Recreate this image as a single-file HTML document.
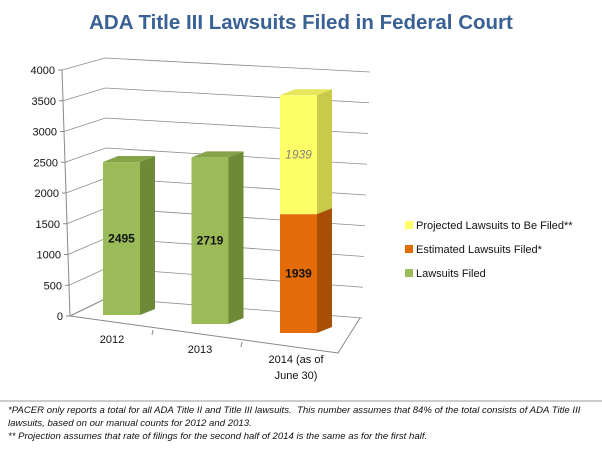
<!DOCTYPE html>
<html><head><meta charset="utf-8"><style>
body{margin:0;background:#fff;width:602px;height:458px;overflow:hidden;font-family:"Liberation Sans",sans-serif}
svg{position:absolute;left:0;top:0}
.fn{position:absolute;left:8px;font-style:italic;font-size:9.6px;color:#111;white-space:nowrap}
</style></head><body>
<svg width="602" height="458">
<text x="301" y="29" text-anchor="middle" font-size="20.5" font-weight="bold" fill="#3a6194">ADA Title III Lawsuits Filed in Federal Court</text>
<g id="grid"></g>
<g id="axis"></g>
<g id="bars"></g>
<g id="xlab"></g>
<g font-size="11" fill="#111">
<g><rect x="405" y="221" width="8" height="8" fill="#ffff66"/><text x="416" y="229">Projected Lawsuits to Be Filed**</text></g>
<g><rect x="405" y="245" width="8" height="8" fill="#e36c09"/><text x="416" y="253">Estimated Lawsuits Filed*</text></g>
<g><rect x="405" y="269" width="8" height="8" fill="#9bbb59"/><text x="416" y="277">Lawsuits Filed</text></g>
</g>
<line x1="0" y1="401" x2="602" y2="401" stroke="#999"/>
</svg>
<div class="fn" style="top:405px">*PACER only reports a total for all ADA Title II and Title III lawsuits.&nbsp; This number assumes that 84% of the total consists of ADA Title III</div>
<div class="fn" style="top:418px">lawsuits, based on our manual counts for 2012 and 2013.</div>
<div class="fn" style="top:431px">** Projection assumes that rate of filings for the second half of 2014 is the same as for the first half.</div>
<script>
const categories=["2012","2013","2014 (as of|June 30)"];
const filed=[2495,2719,0];
const estimated=[0,0,1939];
const projected=[0,0,1939];
const yTicks=[0,500,1000,1500,2000,2500,3000,3500,4000];
const NS="http://www.w3.org/2000/svg";
function mk(p,tag,a){const e=document.createElementNS(NS,tag);for(const k in a)e.setAttribute(k,a[k]);p.appendChild(e);return e;}
const yMax=4000;
function t(v){return v/yMax;}
// axis geometry
function leftPt(v){return [70-8*t(v),316-246*t(v)];}
function backPt(v){return [107-2*t(v),298-240*t(v)];}
function rightPt(v){return [362+8*t(v),318-246*t(v)];}
const grid=document.getElementById('grid');
mk(grid,'polyline',{points:"70,316 338,353 360,318",fill:"none",stroke:"#888","stroke-width":1});
mk(grid,'line',{x1:70,y1:316,x2:107,y2:298,stroke:"#888"});
yTicks.forEach(v=>{const a=leftPt(v),b=backPt(v),c=rightPt(v);
 const l=mk(grid,'polyline',{points:a.join(',')+' '+b.join(',')+' '+c.join(','),fill:"none",stroke:"#8c8c8c","stroke-width":0.8});
 
 });
const axis=document.getElementById('axis');
mk(axis,'line',{x1:70,y1:316,x2:62,y2:70,stroke:"#888"});
yTicks.forEach(v=>{const a=leftPt(v);
 mk(axis,'line',{x1:a[0]-4,y1:a[1],x2:a[0],y2:a[1],stroke:"#888"});
 const tx=mk(axis,'text',{x:a[0]-7,y:a[1]+4,"text-anchor":"end","font-size":11,fill:"#111"});tx.textContent=v;
 
 });
// bars
const bars=document.getElementById('bars');
const scale=0.0613,W=37,DX=15,DY=-6;
function box(x,yb,h,front,side,top,name){
 const g=mk(bars,'g',{});
 
 
 const yt=yb-h;
 mk(g,'polygon',{points:`${x+W},${yb} ${x+W+DX},${yb+DY} ${x+W+DX},${yt+DY} ${x+W},${yt}`,fill:side});
 mk(g,'polygon',{points:`${x},${yt} ${x+W},${yt} ${x+W+DX},${yt+DY} ${x+DX},${yt+DY}`,fill:top});
 mk(g,'rect',{x:x,y:yt,width:W,height:h,fill:front});
 return g;}
function lab(x,y,txt,style){const e=mk(bars,'text',Object.assign({x:x,y:y,"text-anchor":"middle","font-size":12},style));e.textContent=txt;
 
 }
categories.forEach((c,i)=>{
 const x=103+i*88.5, yb=315+i*9;
 let y=yb;
 if(filed[i]>0){const h=filed[i]*scale;box(x,y,h,"#9bbb59","#6f8a37","#86a34a","bar-filed-"+i);lab(x+W/2,y-h/2+4,filed[i],{"font-weight":"bold",fill:"#111"});y-=h;}
 if(estimated[i]>0){const h=estimated[i]*scale;box(x,y,h,"#e36c09","#a84f06","#c85f08","bar-estimated-"+i);lab(x+W/2,y-h/2+4,estimated[i],{"font-weight":"bold",fill:"#111"});y-=h;}
 if(projected[i]>0){const h=projected[i]*scale;box(x,y,h,"#ffff66","#c9c94a","#e6e65a","bar-projected-"+i);lab(x+W/2,y-h/2+4,projected[i],{"font-style":"italic",fill:"#808080"});y-=h;}
});
// x labels
const xl=document.getElementById('xlab');
[[153,330],[242,342]].forEach(p=>mk(xl,'line',{x1:p[0],y1:p[1],x2:p[0]-1,y2:p[1]+5,stroke:"#888"}));
categories.forEach((c,i)=>{
 const parts=c.split('|');
 parts.forEach((s,j)=>{const e=mk(xl,'text',{x:112+i*88+ (i==2?8:0),y:343+i*10+j*16,"text-anchor":"middle","font-size":11,fill:"#111"});e.textContent=s;
 
 });
});
</script>
</body></html>
